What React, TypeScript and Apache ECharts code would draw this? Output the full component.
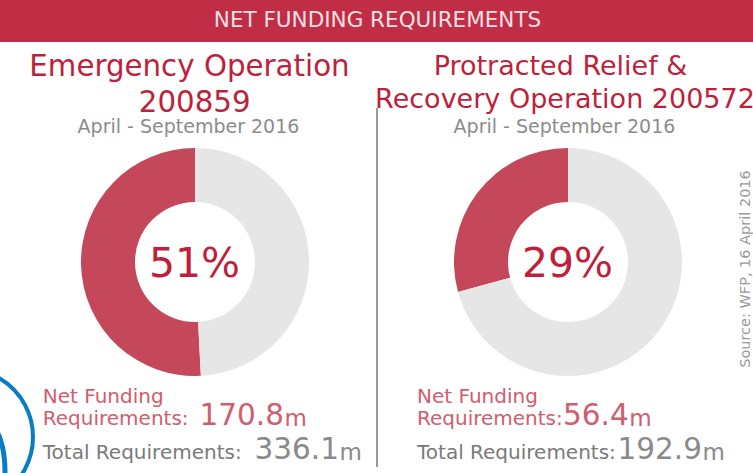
import React, { useEffect, useRef } from "react";
import * as echarts from "echarts";

const headerTitle = "NET FUNDING REQUIREMENTS";
const titleLines = [
  ["Emergency Operation", "200859"],
  ["Protracted Relief &", "Recovery Operation 200572"],
];
const periods = ["April - September 2016", "April - September 2016"];
const netRequirements = [170.8, 56.4];
const totalRequirements = [336.1, 192.9];
const netLabelLines = ["Net Funding", "Requirements:"];
const totalLabel = "Total Requirements:";
const unit = "m";
const sourceNote = "Source: WFP, 16 April 2016";

const FONT = "'DejaVu Sans', Verdana, sans-serif";
const RED_TITLE = "#BF1F3B";
const RED_DONUT = "#C4485A";
const RED_SOFT = "#D15D6E";
const GREY_DONUT = "#E6E6E6";

let ctx: CanvasRenderingContext2D | null = null;
function measure(text: string, size: number): number {
  if (!ctx) ctx = document.createElement("canvas").getContext("2d");
  if (!ctx) return text.length * size * 0.6;
  ctx.font = `${size}px ${FONT}`;
  return ctx.measureText(text).width;
}

function txt(x: number, baseline: number, text: string, size: number, fill: string, align: string = "left", extra: any = {}) {
  return {
    type: "text",
    x,
    y: baseline - 0.346 * size,
    silent: true,
    ...extra,
    style: {
      text,
      font: `${size}px ${FONT}`,
      fontSize: size,
      fontFamily: FONT,
      fill,
      align,
      verticalAlign: "middle",
      textAlign: align,
      textVerticalAlign: "middle",
    },
  };
}

export default function App() {
  const ref = useRef<HTMLDivElement>(null);
  useEffect(() => {
    document.body.style.margin = "0";
    if (!ref.current) return;
    const chart = echarts.init(ref.current, undefined, { renderer: "svg" });

    const centers = [
      [195, 262],
      [568, 262],
    ];
    const titleCenters = [
      [189.5, 194.7],
      [560.5, 565],
    ];
    const titleBaselines = [
      [76.5, 112.5],
      [75, 107.7],
    ];
    const titleSizes = [29.3, 27];
    const periodCenters = [188.5, 564.5];
    const textLeft = [42.8, 417];
    const netNumX = [199.5, 563];
    const totalNumX = [254.5, 617.5];
    const labelSize = 20;
    const numSize = 29.5;
    const unitSize = 23;

    const series: any[] = centers.map((c, i) => ({
      type: "pie",
      center: c,
      radius: [60, 114],
      startAngle: 90,
      clockwise: false,
      silent: true,
      label: { show: false },
      labelLine: { show: false },
      emphasis: { disabled: true },
      data: [
        { value: netRequirements[i], itemStyle: { color: RED_DONUT } },
        { value: totalRequirements[i] - netRequirements[i], itemStyle: { color: GREY_DONUT } },
      ],
    }));

    const graphics: any[] = [
      { type: "rect", shape: { x: 0, y: 0, width: 753, height: 42 }, style: { fill: "#C02D45" }, silent: true },
      txt(377.5, 26.7, headerTitle, 21.5, "#F4E0E4", "center"),
      { type: "line", shape: { x1: 377, y1: 108, x2: 377, y2: 467 }, style: { stroke: "#9A9A9A", lineWidth: 2 }, silent: true },
      { type: "circle", shape: { cx: -35, cy: 437, r: 68 }, style: { fill: "none", stroke: "#0A7DC2", lineWidth: 4 }, silent: true },
      { type: "ellipse", shape: { cx: -10, cy: 472, rx: 15, ry: 45 }, style: { fill: "none", stroke: "#0A7DC2", lineWidth: 5 }, silent: true },
      txt(750, 269, sourceNote, 14.5, "#9A9A9A", "center", { rotation: Math.PI / 2, y: 269, x: 750 - 0.346 * 14.5 }),
    ];

    for (let i = 0; i < 2; i++) {
      titleLines[i].forEach((line, j) => {
        graphics.push(txt(titleCenters[i][j], titleBaselines[i][j], line, titleSizes[i], RED_TITLE, "center"));
      });
      graphics.push(txt(periodCenters[i], 132.7, periods[i], 19, "#8C8C8C", "center"));
      const pct = Math.round((netRequirements[i] / totalRequirements[i]) * 100) + "%";
      graphics.push(txt(centers[i][0] - 0.5, 277, pct, 41, RED_TITLE, "center"));

      graphics.push(txt(textLeft[i], 403, netLabelLines[0], labelSize, RED_SOFT));
      graphics.push(txt(textLeft[i], 425, netLabelLines[1], labelSize, RED_SOFT));
      const netStr = netRequirements[i].toFixed(1);
      graphics.push(txt(netNumX[i], 425.5, netStr, numSize, RED_SOFT));
      graphics.push(txt(netNumX[i] + measure(netStr, numSize) + 0.5, 425.5, unit, unitSize, RED_SOFT));

      graphics.push(txt(textLeft[i], 459.3, totalLabel, labelSize, "#7A7A7A"));
      const totStr = totalRequirements[i].toFixed(1);
      graphics.push(txt(totalNumX[i], 459.5, totStr, numSize, "#8A8A8A"));
      graphics.push(txt(totalNumX[i] + measure(totStr, numSize) + 0.5, 459.5, unit, unitSize, "#8A8A8A"));
    }

    chart.setOption({
      animation: false,
      backgroundColor: "#FFFFFF",
      series,
      graphic: { elements: graphics },
    });
    return () => chart.dispose();
  }, []);
  return <div ref={ref} style={{ width: 753, height: 473, overflow: "hidden" }} />;
}
